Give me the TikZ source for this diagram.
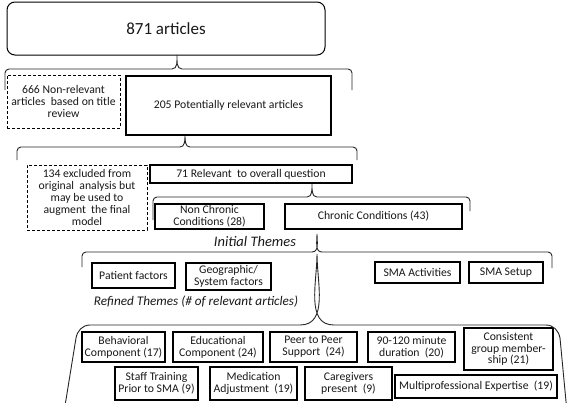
\documentclass[tikz,border=0pt]{standalone}
\usepackage{fontspec}
\setmainfont{Carlito}
\newcommand\mybrace[7]{% xl xr xtip ytop ybotleft ybotright ytip
  \draw[bracestyle] (#1,#5) -- (#1,#4+4) to[out=90,in=180] (#1+4,#4) -- (#3-5,#4)
    to[out=0,in=-90] (#3,#7) to[out=-90,in=180] (#3+5,#4) -- (#2-4,#4)
    to[out=0,in=90] (#2,#4+4) -- (#2,#6);}
\begin{document}
\begin{tikzpicture}[x=1pt,y=-1pt,
  every node/.style={text=black!90},
  box/.style={draw, line width=2pt, inner sep=0pt, align=center, font=\fontsize{11.7}{12}\selectfont},
  thickbox/.style={box, line width=2.6pt},
  dbox/.style={draw, line width=1pt, dash pattern=on 3pt off 2pt, inner sep=0pt, align=center, font=\fontsize{11.7}{12}\selectfont},
  bracestyle/.style={line width=0.9pt, black!85},
  theme/.style={font=\itshape}]
\useasboundingbox (0,0) rectangle (567,402);
\fill[white] (0,0) rectangle (567,402);

\node[draw, line width=1pt, rounded corners=8pt, minimum width=318pt, minimum height=53pt, inner sep=0pt, font=\fontsize{17}{20}\selectfont] (top) at (166,28.5) {871 articles};

\node[dbox, minimum width=113pt, minimum height=53pt] (n666) at (63.5,101.5) {666 Non-relevant\\articles\ \ based on title\\review};
\node[thickbox, minimum width=205pt, minimum height=59pt] (n205) at (228.5,105.5) {205 Potentially relevant articles};

\node[dbox, minimum width=120pt, minimum height=65pt] (n134) at (87,197.5) {134 excluded from\\original\ \ analysis but\\may be used to\\augment\ \ the final\\model};
\node[box, minimum width=202pt, minimum height=18pt] (n71) at (251,174) {71 Relevant\ \ to overall question};

\node[box, minimum width=109pt, minimum height=25pt] (nonchr) at (209.5,216.5) {Non Chronic\\Conditions (28)};
\node[box, minimum width=177pt, minimum height=25pt] (chr) at (373.5,216.5) {Chronic Conditions (43)};

\node[theme, font=\fontsize{14.5}{16}\selectfont\itshape] (initial) at (255,242) {Initial Themes};

\node[box, minimum width=83pt, minimum height=25pt] (patient) at (133.5,275.5) {Patient factors};
\node[box, minimum width=85pt, minimum height=27pt] (geo) at (228.5,276.5) {Geographic/\\System factors};
\node[box, minimum width=85pt, minimum height=21pt] (smaact) at (417.5,272.5) {SMA Activities};
\node[box, minimum width=74pt, minimum height=21pt] (smaset) at (506,272.5) {SMA Setup};

\node[theme, font=\fontsize{13.2}{15}\selectfont\itshape] (refined) at (196,302) {Refined Themes (\# of relevant articles)};

\node[box, minimum width=83pt, minimum height=30pt] (behav) at (123.5,347) {Behavioral\\Component (17)};
\node[box, minimum width=90pt, minimum height=30pt] (educ) at (218,347) {Educational\\Component (24)};
\node[box, minimum width=87pt, minimum height=30pt] (peer) at (313.5,347) {Peer to Peer\\Support\ \ (24)};
\node[box, minimum width=87pt, minimum height=30pt] (dur) at (411.5,347) {90-120 minute\\duration\ \ (20)};
\node[box, minimum width=89pt, minimum height=42pt, font=\fontsize{11.7}{11.5}\selectfont] (consist) at (508.5,349) {Consistent\\group member-\\ship (21)};

\node[box, minimum width=83pt, minimum height=33pt] (staff) at (156.5,383.5) {Staff Training\\Prior to SMA (9)};
\node[box, minimum width=87pt, minimum height=33pt] (med) at (253.5,383.5) {Medication\\Adjustment\ \ (19)};
\node[box, minimum width=87pt, minimum height=33pt] (care) at (348.5,383.5) {Caregivers\\present\ \ (9)};
\node[box, minimum width=162pt, minimum height=23pt] (multi) at (476,386.5) {Multiprofessional Expertise\ \ (19)};

% braces
\mybrace{5}{352}{177}{69}{90}{90}{55}
\mybrace{17}{357}{185}{147}{160}{160}{136}
\mybrace{153}{470}{312}{197}{220}{211}{184}
\mybrace{82}{552}{317}{252}{267}{268}{234}
\draw[bracestyle] (64,412) -- (76,338) to[out=80,in=180] (90,325) -- (300,325)
  to[out=0,in=-90] (317,254) to[out=-90,in=180] (334,325) -- (546,325)
  to[out=0,in=100] (560,338) -- (567,412);
\end{tikzpicture}
\end{document}
